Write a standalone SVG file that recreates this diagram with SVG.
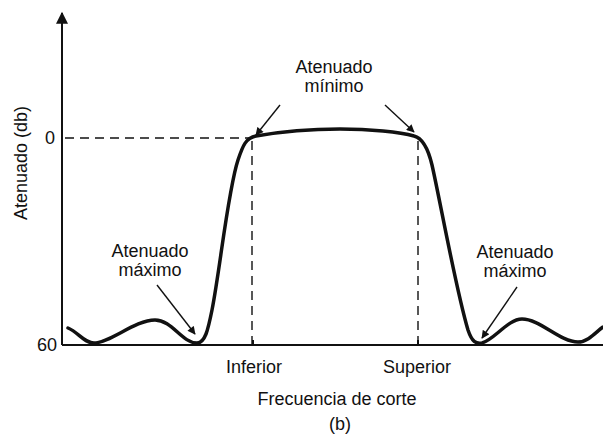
<svg xmlns="http://www.w3.org/2000/svg" width="603" height="434" viewBox="0 0 603 434">
<defs>
<style>
text{font-family:"Liberation Sans",Arial,sans-serif;font-size:18px;fill:#111}
.ax{stroke:#111;stroke-width:2;fill:none}
.dash{stroke:#111;stroke-width:1.4;fill:none;stroke-dasharray:9,6}
.cv{stroke:#111;stroke-width:3.5;fill:none;stroke-linejoin:round;stroke-linecap:round}
.ar{stroke:#111;stroke-width:1.4;fill:none;marker-end:url(#ah)}
</style>
<marker id="ah" viewBox="0 0 10 10" refX="9" refY="5" markerWidth="9" markerHeight="8" markerUnits="userSpaceOnUse" orient="auto">
<path d="M0,0 L10,5 L0,10 z" fill="#111"/>
</marker>
<marker id="axh" viewBox="0 0 10 10" refX="9" refY="5" markerWidth="20" markerHeight="12" markerUnits="userSpaceOnUse" orient="auto">
<path d="M0,0 L10,5 L0,10 z" fill="#111"/>
</marker>
</defs>
<g id="axes">
<line class="ax" x1="62" y1="345" x2="62" y2="13" marker-end="url(#axh)"/>
<line class="ax" x1="62" y1="345" x2="603" y2="345"/>
<line class="ax" x1="253" y1="340" x2="253" y2="345"/>
<line class="ax" x1="418" y1="340" x2="418" y2="345"/>
<text x="50" y="144" text-anchor="middle">0</text>
<text x="47" y="351" text-anchor="middle">60</text>
<text transform="translate(27,163) rotate(-90)" text-anchor="middle">Atenuado (db)</text>
</g>
<g id="connectors">
<line class="dash" x1="65" y1="138" x2="250" y2="138"/>
<line class="dash" x1="252" y1="141" x2="252" y2="345"/>
<line class="dash" x1="418" y1="141" x2="418" y2="345"/>
<path class="cv" d="M68,328 C78,332 84,343 94,343 C110,343 135,320 155,320 C172,320 182,343 197,343 C205,343 208,330 212,310 C220,270 228,190 238,160 C243,145 246,138 256,136 C290,130 320,129 340,129 C370,129 400,132 414,136 C422,138 428,148 432,165 C440,200 456,290 468,330 C472,342 476,344 482,343 C494,340 508,319 522,319 C540,319 560,342 578,342 C588,342 596,332 603,327"/>
<line class="ar" x1="280" y1="105" x2="256" y2="135"/>
<line class="ar" x1="385" y1="105" x2="414" y2="132"/>
<line class="ar" x1="157" y1="285" x2="195" y2="334"/>
<line class="ar" x1="517" y1="287" x2="482" y2="338"/>
</g>
<g id="label-min">
<text x="334" y="73" text-anchor="middle">Atenuado</text>
<text x="334" y="92" text-anchor="middle">mínimo</text>
</g>
<g id="label-max-left">
<text x="150" y="257" text-anchor="middle">Atenuado</text>
<text x="150" y="276" text-anchor="middle">máximo</text>
</g>
<g id="label-max-right">
<text x="515" y="258" text-anchor="middle">Atenuado</text>
<text x="515" y="277" text-anchor="middle">máximo</text>
</g>
<g id="label-x">
<text x="254" y="373" text-anchor="middle">Inferior</text>
<text x="417" y="373" text-anchor="middle">Superior</text>
<text x="337" y="405" text-anchor="middle">Frecuencia de corte</text>
<text x="340" y="430" text-anchor="middle">(b)</text>
</g>
</svg>
